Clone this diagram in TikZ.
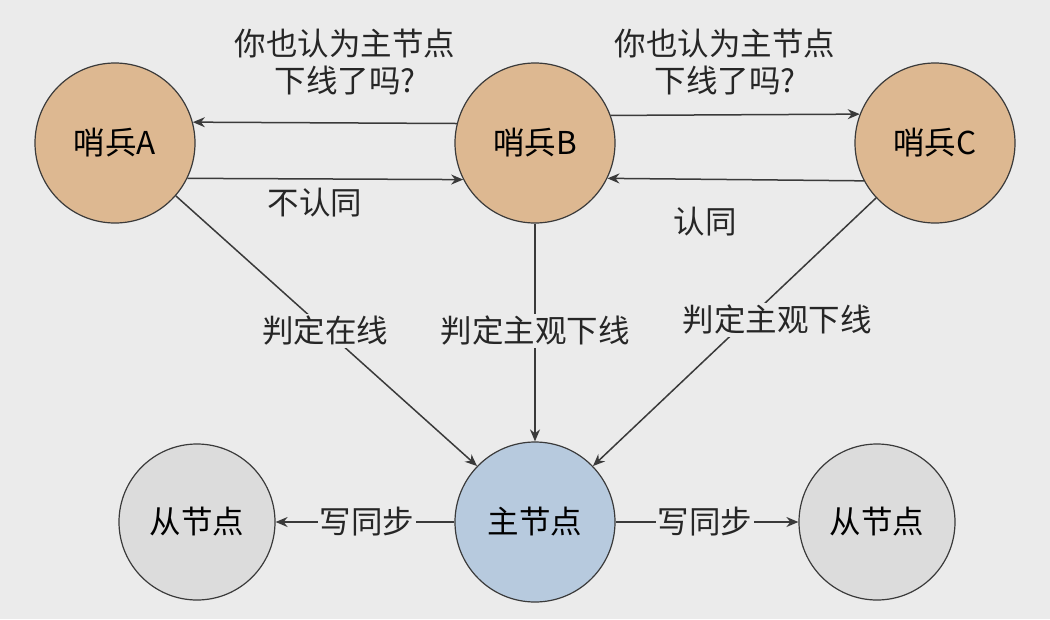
\documentclass[tikz,border=0pt]{standalone}
\usepackage{fontspec}
\setmainfont{Noto Sans CJK SC}
\usetikzlibrary{arrows.meta}
\definecolor{bg}{HTML}{EBEBEB}
\definecolor{orng}{HTML}{DDB891}
\definecolor{blu}{HTML}{B7CADE}
\definecolor{gry}{HTML}{DCDCDC}
\definecolor{edge}{HTML}{3A3A3A}
\tikzset{
 x=1pt,y=-1pt,
 circ/.style={circle,draw=edge,line width=1.2pt,minimum size=160pt,inner sep=0pt,font=\fontsize{31.5}{34}\selectfont},
 arr/.style={-{Stealth[length=12pt,width=10pt]},line width=1.5pt,draw=edge},
 lbl/.style={font=\fontsize{31.5}{37}\selectfont,text=black!85,align=center},
}
\begin{document}
\begin{tikzpicture}
\fill[bg] (0,0) rectangle (1050,619);
\useasboundingbox (0,0) rectangle (1050,619);
\node[circ,fill=orng] (A) at (115,143) {哨兵A};
\node[circ,fill=orng] (B) at (535,143) {哨兵B};
\node[circ,fill=orng] (C) at (935,143) {哨兵C};
\node[circ,fill=blu] (M) at (535,522) {主节点};
\node[circ,fill=gry,minimum size=156pt] (S1) at (197,522) {从节点};
\node[circ,fill=gry,minimum size=156pt] (S2) at (877,522) {从节点};
\draw[arr] (B.166) -- (A.15);
\draw[arr] (A.-26) -- (B.207);
\draw[arr] (B.20) -- (C.159);
\draw[arr] (C.208) -- (B.-26);
\draw[arr] (A.-41) -- (M.136);
\draw[arr] (B.-90) -- (M.90);
\draw[arr] (C.223) -- (M.44);
\draw[arr] (M.180) -- (S1.0);
\draw[arr] (M.0) -- (S2.180);
\node[lbl] (l1) at (345,62) {你也认为主节点\\下线了吗?};
\node[lbl] (l2) at (725,62) {你也认为主节点\\下线了吗?};
\node[lbl] (l3) at (315,203) {不认同};
\node[lbl] (l4) at (705,222) {认同};
\node[lbl,fill=bg,inner sep=2pt] (l5) at (325,331) {判定在线};
\node[lbl,fill=bg,inner sep=2pt] (l6) at (535,331) {判定主观下线};
\node[lbl,fill=bg,inner sep=2pt] (l7) at (777,320) {判定主观下线};
\node[lbl,fill=bg,inner sep=2pt] (l8) at (367,522) {写同步};
\node[lbl,fill=bg,inner sep=2pt] (l9) at (705,522) {写同步};
\end{tikzpicture}
\end{document}
